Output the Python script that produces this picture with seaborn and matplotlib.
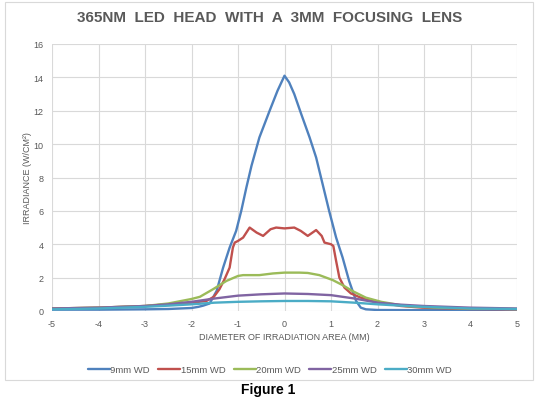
import numpy as np
import pandas as pd
import seaborn as sns
import matplotlib.pyplot as plt
from matplotlib.patches import Rectangle

# irradiance profiles (x in mm, y in W/cm2)
x_9mm = [-5, -4, -3, -2.5, -2, -1.85, -1.75, -1.61, -1.46, -1.32, -1.18, -1.04, -0.93, -0.82,
         -0.71, -0.54, -0.32, -0.15, 0, 0.1, 0.21, 0.36, 0.54, 0.68, 0.82, 0.96, 1.11, 1.25,
         1.39, 1.54, 1.64, 1.75, 2, 3, 4, 5]
y_9mm = [0.08, 0.08, 0.1, 0.12, 0.18, 0.25, 0.32, 0.45, 1.2, 2.6, 3.8, 4.8, 6.0, 7.4,
         8.7, 10.4, 12.0, 13.2, 14.1, 13.7, 13.0, 11.8, 10.4, 9.2, 7.6, 6.0, 4.4, 3.2,
         1.8, 0.6, 0.2, 0.1, 0.06, 0.05, 0.06, 0.08]

x_15mm = [-5, -4, -3, -2.5, -2, -1.68, -1.52, -1.4, -1.29, -1.18, -1.11, -1.07, -1.0, -0.89,
          -0.75, -0.6, -0.46, -0.3, -0.18, 0, 0.21, 0.35, 0.5, 0.68, 0.8, 0.86, 1.0, 1.05,
          1.11, 1.18, 1.29, 1.43, 1.64, 2.08, 2.5, 2.96, 4, 5]
y_15mm = [0.15, 0.2, 0.3, 0.4, 0.5, 0.6, 0.85, 1.3, 1.9, 2.6, 3.8, 4.1, 4.2, 4.4,
          5.0, 4.7, 4.5, 4.9, 5.0, 4.95, 5.0, 4.8, 4.5, 4.85, 4.5, 4.1, 4.0, 3.9,
          3.0, 2.0, 1.4, 1.05, 0.8, 0.5, 0.3, 0.2, 0.12, 0.1]

x_20mm = [-5, -4, -3, -2.5, -2, -1.82, -1.54, -1.25, -1.0, -0.89, -0.7, -0.54, -0.25, 0,
          0.32, 0.5, 0.75, 1.04, 1.25, 1.46, 1.75, 2.08, 2.6, 3.3, 4, 5]
y_20mm = [0.15, 0.2, 0.3, 0.45, 0.72, 0.85, 1.3, 1.8, 2.1, 2.15, 2.15, 2.15, 2.25, 2.3,
          2.3, 2.28, 2.15, 1.85, 1.55, 1.2, 0.8, 0.55, 0.3, 0.2, 0.15, 0.12]

x_wide = [-5, -4, -3, -2.5, -2, -1.5, -1, -0.5, 0, 0.5, 1, 1.5, 2, 2.5, 3, 4, 5]
y_25mm = [0.15, 0.2, 0.3, 0.4, 0.55, 0.75, 0.92, 1.0, 1.05, 1.02, 0.95, 0.75, 0.5, 0.38, 0.3, 0.2, 0.15]
y_30mm = [0.1, 0.15, 0.25, 0.32, 0.4, 0.5, 0.55, 0.58, 0.6, 0.6, 0.58, 0.5, 0.4, 0.32, 0.25, 0.15, 0.12]

labels = ["9mm WD", "15mm WD", "20mm WD", "25mm WD", "30mm WD"]
colors = ["#4F81BD", "#C0504D", "#9BBB59", "#8064A2", "#4BACC6"]

series = [(x_9mm, y_9mm), (x_15mm, y_15mm), (x_20mm, y_20mm), (x_wide, y_25mm), (x_wide, y_30mm)]
frames = []
for lab, (xs, ys) in zip(labels, series):
    frames.append(pd.DataFrame({"x": xs, "y": ys, "series": lab}))
df = pd.concat(frames, ignore_index=True)

sns.set_style("white")
plt.rcParams['font.family'] = ['Liberation Sans', 'DejaVu Sans']
plt.rcParams['axes.unicode_minus'] = False

fig = plt.figure(figsize=(5.4, 4.02), dpi=100)
ax = fig.add_axes([52 / 540, 1 - 312 / 402, 465 / 540, 267 / 402])

sns.lineplot(data=df, x="x", y="y", hue="series", palette=colors, hue_order=labels,
             sort=False, estimator=None, linewidth=1.7, ax=ax)

ax.set_xlim(-5, 5)
ax.set_ylim(0, 16)
ax.set_xticks(np.arange(-5, 6, 1))
ax.set_yticks(np.arange(0, 17, 2))
ax.grid(True, color="#D9D9D9", linewidth=0.8)
for s in ax.spines.values():
    s.set_visible(False)
ax.tick_params(axis="both", length=0, labelsize=6.5, labelcolor="#595959", pad=6)
ax.set_xlabel("DIAMETER OF IRRADIATION AREA (MM)", fontsize=6.5, color="#595959", labelpad=3)
ax.set_ylabel("IRRADIANCE (W/CM²)", fontsize=6.5, color="#595959", labelpad=1)

fig.text(0.5, 1 - 18 / 402, "365NM  LED  HEAD  WITH  A  3MM  FOCUSING  LENS", ha="center", va="center",
         fontsize=11, fontweight="bold", color="#595959")

ax.legend(loc="upper center", bbox_to_anchor=(0.469, -0.17), ncol=5, frameon=False,
          fontsize=6.8, handlelength=2.3, handletextpad=0.05, columnspacing=0.9,
          labelcolor="#595959")

fig.patches.append(Rectangle((5 / 540, 1 - 381 / 402), 528 / 540, 378 / 402, transform=fig.transFigure,
                             fill=False, edgecolor="#D9D9D9", linewidth=0.8))
fig.text(0.497, 1 - 390 / 402, "Figure 1", ha="center", va="center", fontsize=10, fontweight="bold",
         color="black")

fig.savefig("out.png", dpi=100)
